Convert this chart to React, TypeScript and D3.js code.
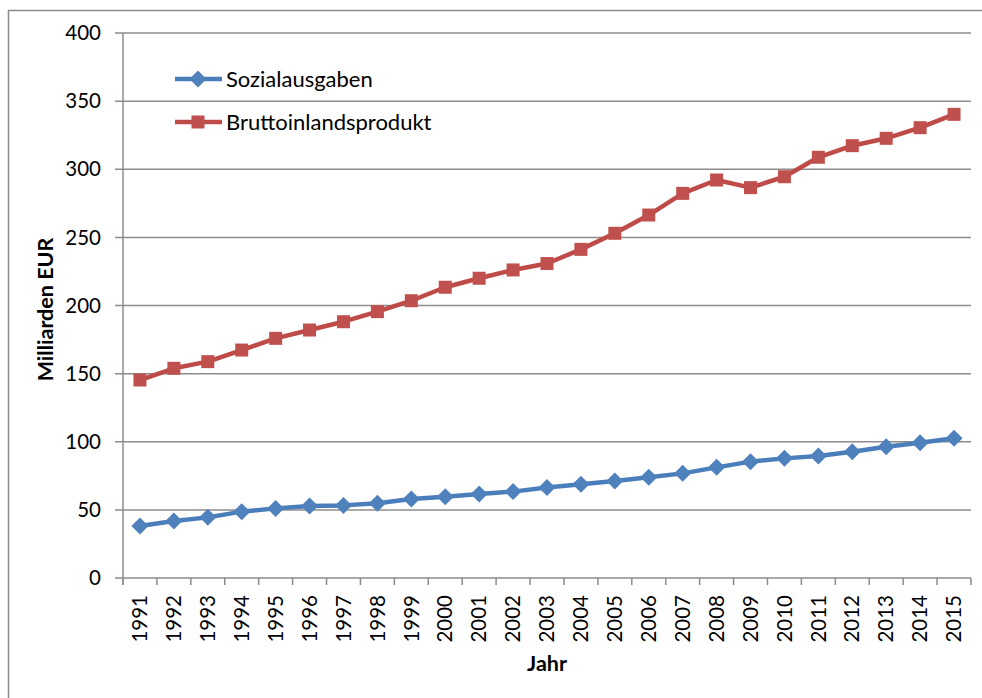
import React from 'react';
import * as d3 from 'd3';

const years = [
  '1991', '1992', '1993', '1994', '1995', '1996', '1997', '1998', '1999', '2000',
  '2001', '2002', '2003', '2004', '2005', '2006', '2007', '2008', '2009', '2010',
  '2011', '2012', '2013', '2014', '2015',
];

const sozialausgaben = [
  38.2, 41.8, 44.5, 48.7, 51.1, 52.8, 53.3, 54.8, 58.0, 59.7,
  61.7, 63.4, 66.5, 68.8, 71.2, 73.9, 76.8, 81.2, 85.4, 87.8,
  89.5, 92.7, 96.4, 99.3, 102.5,
];

const bruttoinlandsprodukt = [
  145.3, 153.9, 158.8, 167.3, 175.9, 182.0, 188.1, 195.5, 203.5, 213.4,
  220.0, 226.1, 230.8, 241.2, 253.0, 266.4, 282.3, 292.1, 286.5, 294.5,
  308.8, 317.3, 322.7, 330.5, 340.3,
];

const yTicks = [0, 50, 100, 150, 200, 250, 300, 350, 400];

const W = 982;
const H = 698;
const left = 123;
const right = 971;
const top = 33;
const bottom = 578;

const gridColor = '#8c8c8c';
const blueLine = '#4A7EBB';
const blueMark = '#4F81BD';
const redLine = '#BE4B48';
const redMark = '#C0504D';
const font = 'Lato, "Open Sans", sans-serif';

export default function App() {
  const x = d3.scaleBand<string>().domain(years).range([left, right]).padding(0);
  const y = d3.scaleLinear().domain([0, 400]).range([bottom, top]);
  const cx = (d: string) => (x(d) ?? 0) + x.bandwidth() / 2;

  const line = d3
    .line<number>()
    .x((_, i) => cx(years[i]))
    .y(d => y(d));

  const diamond = (px: number, py: number, r = 8.5) =>
    `M${px},${py - r}L${px + r},${py}L${px},${py + r}L${px - r},${py}Z`;

  const boundaries = years.map(d => x(d) ?? 0).concat([right]);

  return (
    <svg
      width={W}
      height={H}
      style={{position: 'absolute', left: 0, top: 0, background: '#fff'}}
      fontFamily={font}
    >
      {/* chart border (cut at right and bottom) */}
      <path d={`M8.5,${H}V10.5H${W}`} fill="none" stroke={gridColor} strokeWidth={1.5} />

      {/* gridlines + y ticks */}
      {yTicks.map(t => (
        <g key={t}>
          <line x1={115} x2={right} y1={y(t)} y2={y(t)} stroke={gridColor} strokeWidth={1.5} />
          <text x={101} y={y(t)} dy="0.35em" textAnchor="end" fontSize={20.5} fill="#000">
            {t}
          </text>
        </g>
      ))}

      {/* y axis */}
      <line x1={left} x2={left} y1={top} y2={bottom + 7} stroke={gridColor} strokeWidth={1.5} />

      {/* x ticks */}
      {boundaries.map((b, i) => (
        <line key={i} x1={b} x2={b} y1={bottom} y2={bottom + 7} stroke={gridColor} strokeWidth={1.5} />
      ))}
      {years.map(d => (
        <text
          key={d}
          transform={`translate(${cx(d)},${595}) rotate(-90)`}
          textAnchor="end"
          dy="0.35em"
          fontSize={20.5}
          fill="#000"
        >
          {d}
        </text>
      ))}

      {/* axis titles */}
      <text x={(left + right) / 2} y={663} dy="0.35em" textAnchor="middle" fontSize={21.5} fontWeight="bold">
        Jahr
      </text>
      <text
        transform={`translate(45,${(top + bottom) / 2 + 4}) rotate(-90)`}
        dy="0.35em"
        textAnchor="middle"
        fontSize={21.5}
        fontWeight="bold"
      >
        Milliarden EUR
      </text>

      {/* series */}
      <path d={line(bruttoinlandsprodukt) ?? ''} fill="none" stroke={redLine} strokeWidth={4.5} strokeLinejoin="round" />
      {bruttoinlandsprodukt.map((v, i) => (
        <rect key={i} x={cx(years[i]) - 6.5} y={y(v) - 6.5} width={13} height={13} fill={redMark} />
      ))}
      <path d={line(sozialausgaben) ?? ''} fill="none" stroke={blueLine} strokeWidth={4.5} strokeLinejoin="round" />
      {sozialausgaben.map((v, i) => (
        <path key={i} d={diamond(cx(years[i]), y(v))} fill={blueMark} />
      ))}

      {/* legend */}
      <line x1={175} x2={222} y1={79} y2={79} stroke={blueLine} strokeWidth={4.5} />
      <path d={diamond(198, 79)} fill={blueMark} />
      <text x={226} y={79} dy="0.35em" fontSize={22}>Sozialausgaben</text>
      <line x1={175} x2={222} y1={122} y2={122} stroke={redLine} strokeWidth={4.5} />
      <rect x={191.5} y={115.5} width={13} height={13} fill={redMark} />
      <text x={226} y={122} dy="0.35em" fontSize={22}>Bruttoinlandsprodukt</text>
    </svg>
  );
}
